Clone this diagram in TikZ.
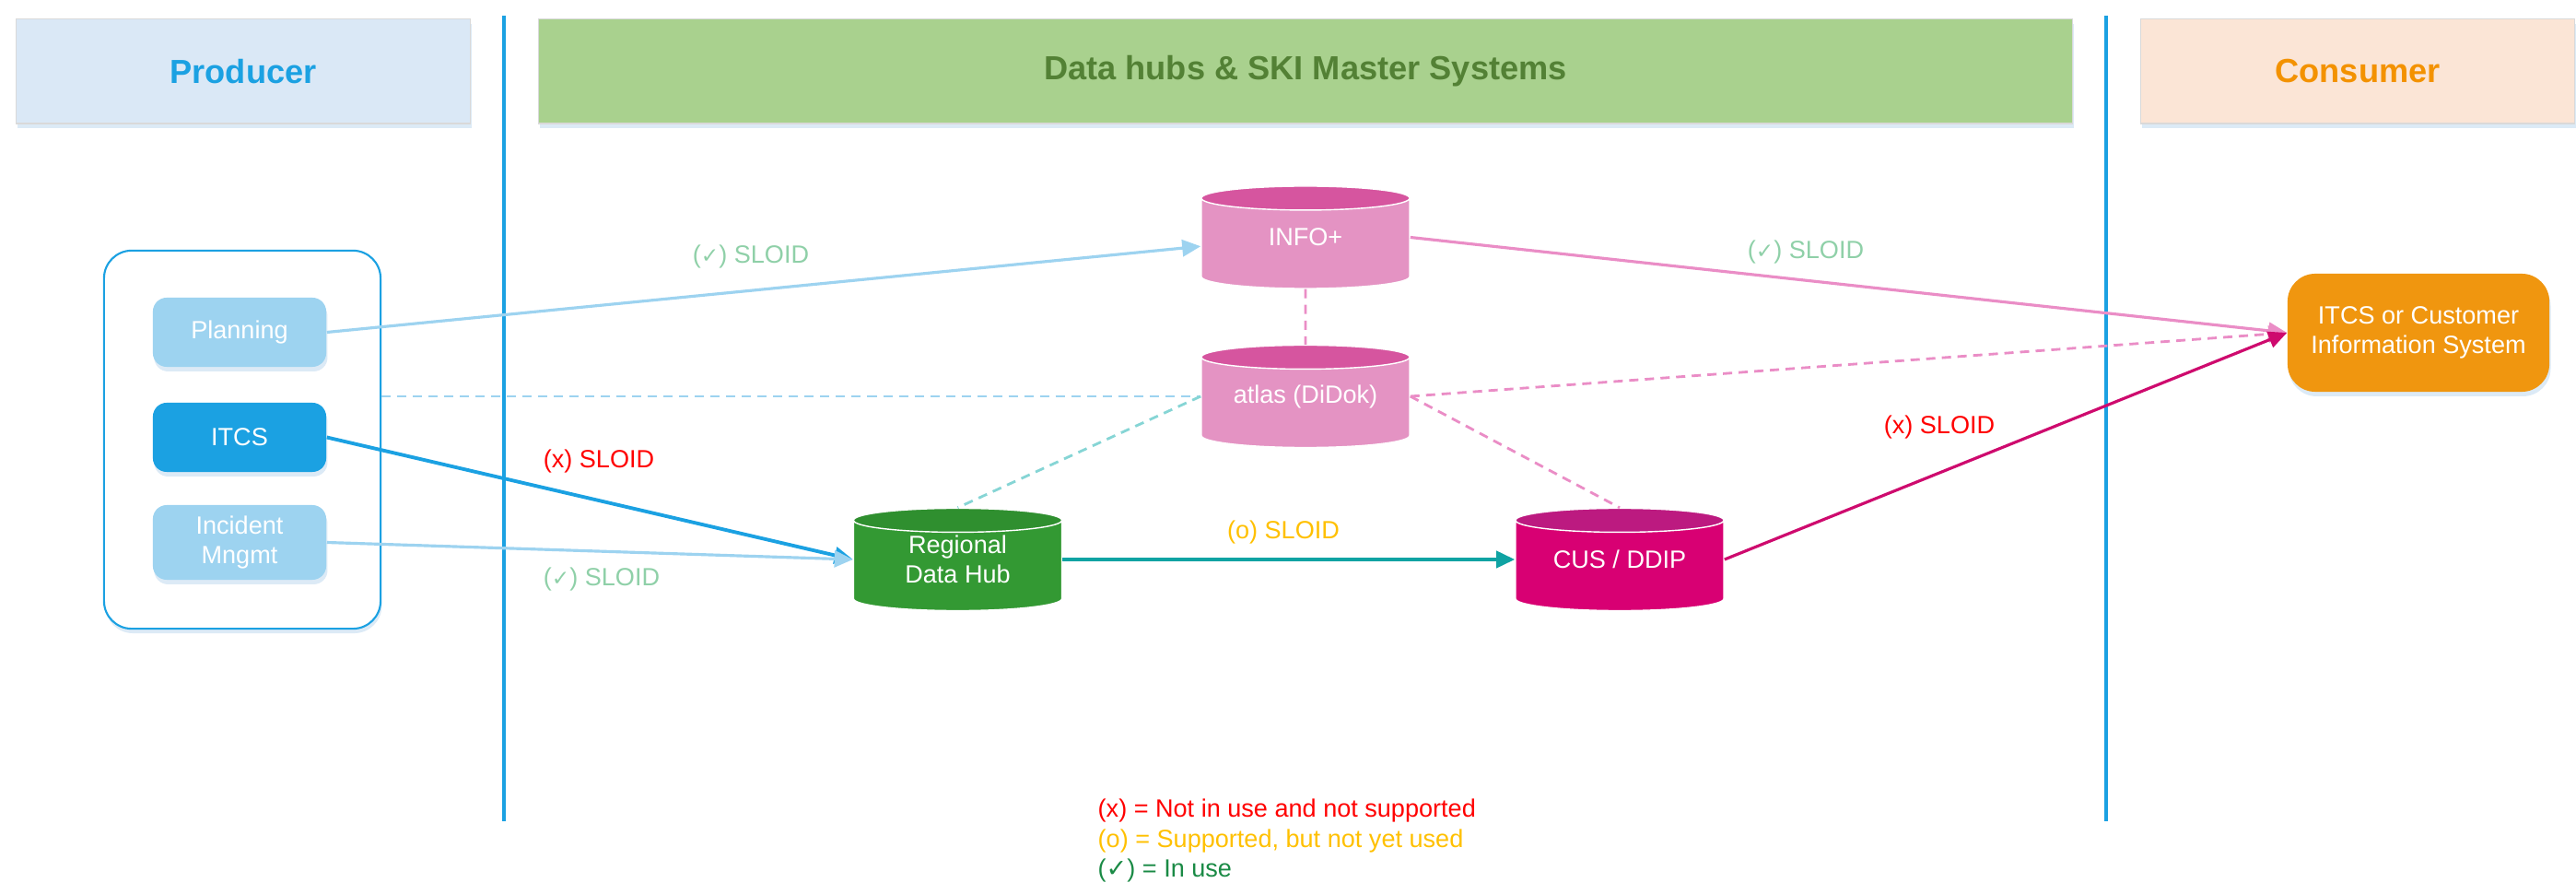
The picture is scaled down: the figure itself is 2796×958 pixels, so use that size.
\documentclass[tikz,border=0pt]{standalone}
\usepackage{fontspec}
\setmainfont{Liberation Sans}
\newfontfamily\symbfont{DejaVu Sans}
\usetikzlibrary{shapes.geometric,arrows.meta,shadows}
\definecolor{itcsblue}{HTML}{1BA1E2}
\definecolor{paleblue}{HTML}{9DD3F0}
\definecolor{headblue}{HTML}{DAE8F6}
\definecolor{headgreen}{HTML}{A9D18E}
\definecolor{darkgreen}{HTML}{538135}
\definecolor{headpeach}{HTML}{FBE5D6}
\definecolor{consorange}{HTML}{F39200}
\definecolor{dbpink}{HTML}{E493C3}
\definecolor{dbpinktop}{HTML}{D6559F}
\definecolor{hubgreen}{HTML}{339933}
\definecolor{hubgreentop}{HTML}{2F8F2F}
\definecolor{cusmagenta}{HTML}{D80073}
\definecolor{cusmagentatop}{HTML}{BC1A80}
\definecolor{cisorange}{HTML}{F0960F}
\definecolor{teal}{HTML}{0FA3A3}
\definecolor{paleteal}{HTML}{86D5D5}
\definecolor{pinkline}{HTML}{EA8DC6}
\definecolor{magentaline}{HTML}{CE0A6E}
\definecolor{okgreen}{HTML}{8FD0A8}
\definecolor{legendgreen}{HTML}{1A8A45}
\definecolor{amber}{HTML}{FFC000}
\definecolor{shade}{HTML}{C5DCF0}
\newcommand{\okmark}{({\symbfont\fontsize{6.6}{8}\selectfont ✓})}

\begin{document}
\begin{tikzpicture}[x=0.01cm,y=-0.01cm,
	every node/.style={font=\fontsize{7.7}{9.2}\selectfont},
	softshadow/.style={drop shadow={shadow xshift=0.4pt,shadow yshift=-1.4pt,fill=shade,opacity=0.6}},
	header/.style={rectangle,draw=black!15,line width=0.3pt,minimum height=1.13cm,font=\fontsize{10.3}{12}\selectfont\bfseries,softshadow},
	source/.style={rectangle,rounded corners=0.15cm,minimum width=1.88cm,minimum height=0.75cm,text=white,align=center,softshadow},
	db/.style={cylinder,shape border rotate=90,aspect=0.25,cylinder uses custom fill,draw=white,line width=0.4pt,minimum width=2.26cm,minimum height=1.11cm,anchor=shape center},
	dbtext/.style={text=white,align=center},
	flow/.style={-{Triangle[length=0.2cm,width=0.18cm]},line width=0.9pt},
	link/.style={dash pattern=on 0.1cm off 0.07cm,line width=0.8pt}]
	\useasboundingbox (0,0) rectangle (2796,958);
	\draw[itcsblue,line width=1.4pt] (547,17) -- (547,891);
	\draw[itcsblue,line width=1.4pt] (2286,17) -- (2286,891);
	\node[header,fill=headblue,text=itcsblue,minimum width=4.92cm] (producer) at (264,77.5) {Producer};
	\node[header,fill=headgreen,text=darkgreen,minimum width=16.64cm] (hubs) at (1417,77.5) {Data hubs \& SKI Master Systems};
	\node[header,fill=headpeach,text=consorange,minimum width=4.7cm] (consumer) at (2559,77.5) {Consumer};
	\node[rectangle,rounded corners=0.3cm,draw=itcsblue,line width=0.6pt,minimum width=3cm,minimum height=4.1cm,softshadow,fill=white] (group) at (263,477) {};
	\node[source,fill=paleblue] (planning) at (260,360.5) {Planning};
	\node[source,fill=itcsblue] (itcs) at (260,474.5) {ITCS};
	\node[source,fill=paleblue] (incident) at (260,588.5) {Incident\\Mngmt};
	\node[db,cylinder body fill=dbpink,cylinder end fill=dbpinktop] (info) at (1417,257.5) {\phantom{INFO+}};
	\node[db,cylinder body fill=dbpink,cylinder end fill=dbpinktop] (atlas) at (1417,430) {\phantom{INFO+}};
	\node[db,cylinder body fill=hubgreen,cylinder end fill=hubgreentop] (rdh) at (1039.5,607) {\phantom{INFO+}};
	\node[db,cylinder body fill=cusmagenta,cylinder end fill=cusmagentatop] (cus) at (1758,607) {\phantom{INFO+}};
	\foreach \db in {info,atlas,rdh,cus}{
		\coordinate (\db-e) at (\db.east |- \db.shape center);
		\coordinate (\db-w) at (\db.west |- \db.shape center);
	}
	\node[dbtext] (infotext) at (info.shape center) {INFO+};
	\node[dbtext] (atlastext) at (atlas.shape center) {atlas (DiDok)};
	\node[dbtext] (rdhtext) at (rdh.shape center) {Regional\\Data Hub};
	\node[dbtext] (custext) at (cus.shape center) {CUS / DDIP};
	\node[rectangle,rounded corners=0.3cm,fill=cisorange,minimum width=2.84cm,minimum height=1.28cm,text=white,align=center,softshadow] (cis) at (2625,361) {ITCS or Customer\\Information System};
	\draw[link,paleblue] (group.east |- atlas-w) -- (atlas-w);
	\draw[link,pinkline] (info.south) -- (atlas.north);
	\draw[link,paleteal] (atlas-w) -- (rdh.north);
	\draw[link,pinkline] (atlas-e) -- (cus.north);
	\draw[flow,paleblue] (planning.east) -- (info.west);
	\draw[flow,itcsblue,line width=1.1pt] (itcs.east) -- (rdh-w);
	\draw[flow,paleblue] (incident.east) -- (rdh-w);
	\draw[flow,teal,line width=1.1pt] (rdh-e) -- (cus-w);
	\draw[flow,pinkline] (info-e) -- (cis.west);
	\draw[flow,link,pinkline] (atlas-e) -- (cis.west);
	\draw[flow,magentaline] (cus-e) -- (cis.west);
	\node[text=okgreen] (planlabel) at (815,278) {\okmark{} SLOID};
	\node[text=red] (itcslabel) at (650,500) {(x) SLOID};
	\node[text=okgreen] (incidentlabel) at (653,628) {\okmark{} SLOID};
	\node[text=amber] (hublabel) at (1393,577) {(o) SLOID};
	\node[text=okgreen] (infolabel) at (1960,273) {\okmark{} SLOID};
	\node[text=red] (cuslabel) at (2105,463) {(x) SLOID};
	\node[anchor=west,align=left,inner sep=0pt] (legend) at (1191,912) {\textcolor{red}{(x) = Not in use and not supported}\\\textcolor{amber}{(o) = Supported, but not yet used}\\\textcolor{legendgreen}{({\symbfont ✓}) = In use}};
\end{tikzpicture}
\end{document}
